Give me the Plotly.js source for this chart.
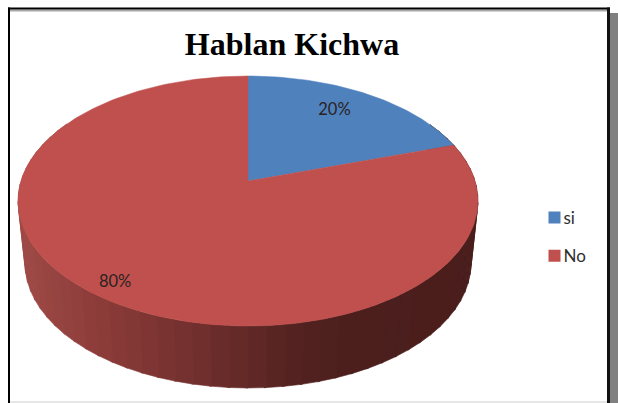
<!DOCTYPE html>
<html>
<head>
<meta charset="utf-8">
<script src="https://cdn.plot.ly/plotly-3.0.1.min.js"></script>
<style>html,body{margin:0;padding:0;background:#fff;overflow:hidden}#chart{width:618px;height:403px}</style>
</head>
<body>
<div id="chart"></div>
<script>
var categories = ['si', 'No'];
var shares = [20, 80];
var percentLabels = ['20%', '80%'];
var sliceColors = ['#4f81bd', '#c0504d'];

// Tilted-disc projection (axis units are set up to equal page pixels)
var CX = 248, CY = 181, SX = 227, SY = 121.8, PERSP = 0.16, DEPTH = 62, BASE_SCALE = 0.97;
var labelRadius = [0.76, 0.9];
var labelTurn = [-2.5, -1];
var wallStops = [[20,[160,75,72]],[100,[140,60,57]],[200,[112,47,45]],[290,[84,35,33]],[340,[76,31,29]],[480,[74,30,28]]];

function project(angle, r) {
  var X = r * Math.sin(angle), Y = r * Math.cos(angle), d = 1 + PERSP * Y;
  return [CX + SX * X / d, CY - SY * Y / d];
}
function projectBase(angle) {
  var p = project(angle, 1);
  return [CX + (p[0] - CX) * BASE_SCALE, p[1] + DEPTH];
}
function wallColor(x) {
  for (var i = 1; i < wallStops.length; i++) {
    if (x <= wallStops[i][0]) {
      var a = wallStops[i-1], b = wallStops[i], f = Math.max(0, (x - a[0]) / (b[0] - a[0]));
      return 'rgb(' + [0,1,2].map(function (k) { return Math.round(a[1][k] + (b[1][k] - a[1][k]) * f); }).join(',') + ')';
    }
  }
  return 'rgb(74,30,28)';
}

var traces = [];
var total = shares.reduce(function (a, b) { return a + b; }, 0);
var deg = Math.PI / 180;

// Side wall of the disc, in vertical bands
for (var d = 60; d < 300; d += 4) {
  var a0 = d * deg, a1 = (d + 4.5) * deg;
  var p0 = project(a0, 1), p1 = project(a1, 1), q1 = projectBase(a1), q0 = projectBase(a0);
  var c = wallColor((q0[0] + q1[0]) / 2);
  traces.push({type: 'scatter', mode: 'lines', x: [p0[0], p1[0], q1[0], q0[0], p0[0]], y: [p0[1], p1[1], q1[1], q0[1], p0[1]],
    fill: 'toself', fillcolor: c, line: {color: c, width: 0.6}, hoverinfo: 'skip', showlegend: false});
}

// Top face slices
var start = 0, labelX = [], labelY = [];
shares.forEach(function (v, i) {
  var sweep = v / total * 2 * Math.PI, xs = [CX], ys = [CY], n = Math.ceil(v * 3);
  for (var k = 0; k <= n; k++) {
    var p = project(start + sweep * k / n, 1);
    xs.push(p[0]); ys.push(p[1]);
  }
  xs.push(CX); ys.push(CY);
  traces.push({type: 'scatter', mode: 'lines', x: xs, y: ys, fill: 'toself', fillcolor: sliceColors[i],
    line: {color: sliceColors[i], width: 0.5}, name: categories[i], text: percentLabels[i], hoverinfo: 'name+text', showlegend: false});
  var m = project(start + sweep / 2 + labelTurn[i] * deg, labelRadius[i]);
  labelX.push(m[0]); labelY.push(m[1]);
  start += sweep;
});

// Percent labels
traces.push({type: 'scatter', mode: 'text', x: labelX, y: labelY, text: percentLabels, textposition: 'middle center',
  textfont: {family: 'Lato, sans-serif', size: 16.5, color: '#2b2222'}, hoverinfo: 'skip', showlegend: false});

// Legend entries
categories.forEach(function (name, i) {
  traces.push({type: 'scatter', mode: 'markers', x: [null], y: [null], name: name, legendgroup: name,
    marker: {symbol: 'square', size: 12, color: sliceColors[i]}, hoverinfo: 'skip', showlegend: true});
});

function px(x) { return x / 618; }
function py(y) { return 1 - y / 403; }
function frameRect(x0, x1, y0, y1, color) {
  return {type: 'rect', layer: 'above', xref: 'paper', yref: 'paper', x0: px(x0), x1: px(x1), y0: py(y0), y1: py(y1),
    fillcolor: color, opacity: 1, line: {width: 0}};
}

var layout = {
  width: 618, height: 403,
  margin: {l: 0, r: 0, t: 0, b: 0},
  paper_bgcolor: '#ffffff', plot_bgcolor: 'rgba(0,0,0,0)',
  xaxis: {range: [0, 618], visible: false, fixedrange: true},
  yaxis: {range: [403, 0], visible: false, fixedrange: true},
  title: {text: '<b>Hablan Kichwa</b>', x: 292 / 618, xanchor: 'center', y: 1 - 44 / 403, yanchor: 'middle',
    font: {family: '"Liberation Serif", "Times New Roman", serif', size: 32, color: '#000000'}},
  legend: {x: 534.5 / 618, y: 1 - 200 / 403, xanchor: 'left', yanchor: 'top', traceorder: 'grouped', tracegroupgap: 13,
    font: {family: 'Lato, sans-serif', size: 17, color: '#2e2e2e'}, bgcolor: 'rgba(0,0,0,0)'},
  shapes: [
    frameRect(609.5, 618, 13, 403, '#808080'),
    frameRect(10, 607, 9.5, 11.5, '#a8a8a8'),
    frameRect(10, 607, 401, 403, '#e6e6e6'),
    frameRect(8, 610, 7.5, 9.5, '#000000'),
    frameRect(8, 10, 7.5, 403, '#000000'),
    frameRect(607, 610, 7.5, 403, '#111111')
  ]
};

Plotly.newPlot('chart', traces, layout, {displayModeBar: false, staticPlot: true}).then(function () {
  document.querySelectorAll('.legendtext').forEach(function (t) {
    t.setAttribute('x', +t.getAttribute('x') - 11);
  });
});
</script>
</body>
</html>
